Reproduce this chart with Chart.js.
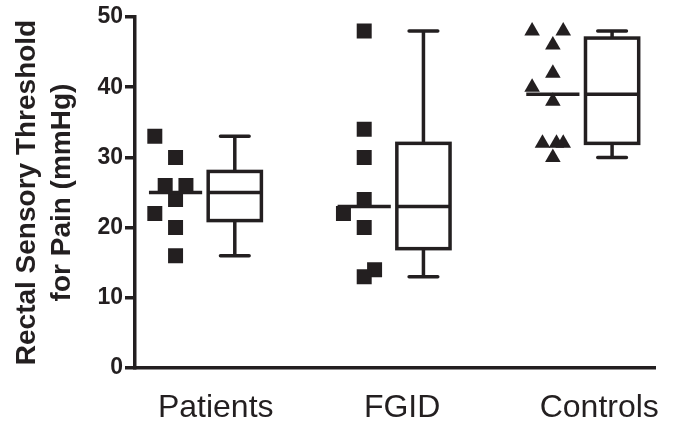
<!DOCTYPE html>
<html>
<head>
<meta charset="utf-8">
<script src="https://cdn.jsdelivr.net/npm/chart.js@4.4.1/dist/chart.umd.min.js"></script>
<style>
  body { margin: 0; background: #fff; }
  #wrap { width: 682px; height: 426px; }
</style>
</head>
<body>
<div id="wrap"><canvas id="chart" width="682" height="426"></canvas></div>
<script>
// data
const categories = ['Patients', 'FGID', 'Controls'];

const patientsValues = [33, 30, 26, 26, 24, 22, 20, 16];
const patientsSlots  = [-2, 0, -1, 1, 0, -2, 0, 0];
const fgidValues     = [48, 34, 30, 24, 22, 20, 14, 13];
const fgidSlots      = [0, 0, 0, 0, -2, 0, 1, 0];
const controlsValues = [48, 48, 46, 42, 40, 38, 32, 32, 32, 30];
const controlsSlots  = [-2, 1, 0, 0, -2, 0, -1, 0.35, 1, 0];

const boxMin    = [16, 13, 30];
const boxQ1     = [21, 17, 32];
const boxMedian = [25, 23, 39];
const boxQ3     = [28, 32, 47];
const boxMax    = [33, 48, 48];

const yTicks = [0, 10, 20, 30, 40, 50];

// layout (group units along x)
const SCATTER_OFF = -0.157;
const BOX_OFF = 0.157;
const HALF_W = 0.141;
const CAP_W = 0.076;
const SLOT = 0.055;
const LABEL_SHIFT = [0.056, 0.044, 0.089];
const INK = '#231f20';
const FONT = "'Liberation Sans', Arial, sans-serif";

function toPoints(values, slots, group) {
  return values.map((v, i) => ({ x: group + SCATTER_OFF + slots[i] * SLOT, y: v }));
}

const boxPlugin = {
  id: 'boxes',
  afterDatasetsDraw(chart) {
    const { ctx, scales: { x, y } } = chart;
    ctx.save();
    ctx.strokeStyle = INK;
    ctx.lineWidth = 3.5;
    categories.forEach((c, i) => {
      const g = i + 1;
      // median line through the scatter column
      ctx.lineCap = 'butt';
      ctx.beginPath();
      ctx.moveTo(x.getPixelForValue(g + SCATTER_OFF - HALF_W), y.getPixelForValue(boxMedian[i]));
      ctx.lineTo(x.getPixelForValue(g + SCATTER_OFF + HALF_W), y.getPixelForValue(boxMedian[i]));
      ctx.stroke();

      const cx = x.getPixelForValue(g + BOX_OFF);
      const l = x.getPixelForValue(g + BOX_OFF - HALF_W);
      const r = x.getPixelForValue(g + BOX_OFF + HALF_W);
      const q1 = y.getPixelForValue(boxQ1[i]);
      const q3 = y.getPixelForValue(boxQ3[i]);
      const md = y.getPixelForValue(boxMedian[i]);
      const lo = y.getPixelForValue(boxMin[i]);
      const hi = y.getPixelForValue(boxMax[i]);
      const cl = x.getPixelForValue(g + BOX_OFF - CAP_W);
      const cr = x.getPixelForValue(g + BOX_OFF + CAP_W);

      ctx.strokeRect(l, q3, r - l, q1 - q3);
      ctx.beginPath();
      ctx.moveTo(l, md); ctx.lineTo(r, md);
      ctx.moveTo(cx, q3); ctx.lineTo(cx, hi);
      ctx.moveTo(cx, q1); ctx.lineTo(cx, lo);
      ctx.stroke();

      ctx.lineCap = 'round';
      ctx.beginPath();
      ctx.moveTo(cl, hi); ctx.lineTo(cr, hi);
      ctx.moveTo(cl, lo); ctx.lineTo(cr, lo);
      ctx.stroke();
    });
    ctx.restore();
  }
};

new Chart(document.getElementById('chart'), {
  type: 'scatter',
  data: {
    datasets: [
      { data: toPoints(patientsValues, patientsSlots, 1), pointStyle: 'rect', pointRadius: 10.6,
        backgroundColor: INK, borderWidth: 0 },
      { data: toPoints(fgidValues, fgidSlots, 2), pointStyle: 'rect', pointRadius: 10.6,
        backgroundColor: INK, borderWidth: 0 },
      { data: toPoints(controlsValues, controlsSlots, 3), pointStyle: 'triangle', pointRadius: 9,
        backgroundColor: INK, borderWidth: 0 }
    ]
  },
  options: {
    responsive: false,
    animation: false,
    events: [],
    layout: { padding: { top: 17, right: 20, left: 0, bottom: 0 } },
    plugins: { legend: { display: false }, tooltip: { enabled: false } },
    scales: {
      x: {
        type: 'linear',
        min: 0.628,
        max: 3.387,
        afterFit(scale) { scale.height = 58; },
        afterBuildTicks(scale) {
          scale.ticks = categories.map((c, i) => ({ value: i + 1 + LABEL_SHIFT[i] }));
        },
        ticks: {
          callback: (v, i) => categories[i],
          color: INK,
          font: { family: FONT, size: 32 },
          padding: 21,
          maxRotation: 0,
          autoSkip: false
        },
        grid: { display: true, drawOnChartArea: false, drawTicks: false },
        border: { display: true, color: INK, width: 3.5 }
      },
      y: {
        min: 0,
        max: 50,
        afterFit(scale) { scale.width = 135; },
        afterBuildTicks(scale) {
          scale.ticks = yTicks.map(v => ({ value: v }));
        },
        ticks: {
          color: INK,
          font: { family: FONT, size: 23, weight: 'bold' },
          padding: 2
        },
        grid: { display: true, drawOnChartArea: false, drawTicks: true, tickLength: 10,
          lineWidth: 3.5, color: INK },
        border: { display: true, color: INK, width: 3.5 },
        title: {
          display: true,
          text: ['Rectal Sensory Threshold', 'for Pain (mmHg)'],
          color: INK,
          font: { family: FONT, size: 28, weight: 'bold', lineHeight: 1.25 },
          padding: { top: 10, bottom: 0 }
        }
      }
    }
  },
  plugins: [boxPlugin]
});
</script>
</body>
</html>
